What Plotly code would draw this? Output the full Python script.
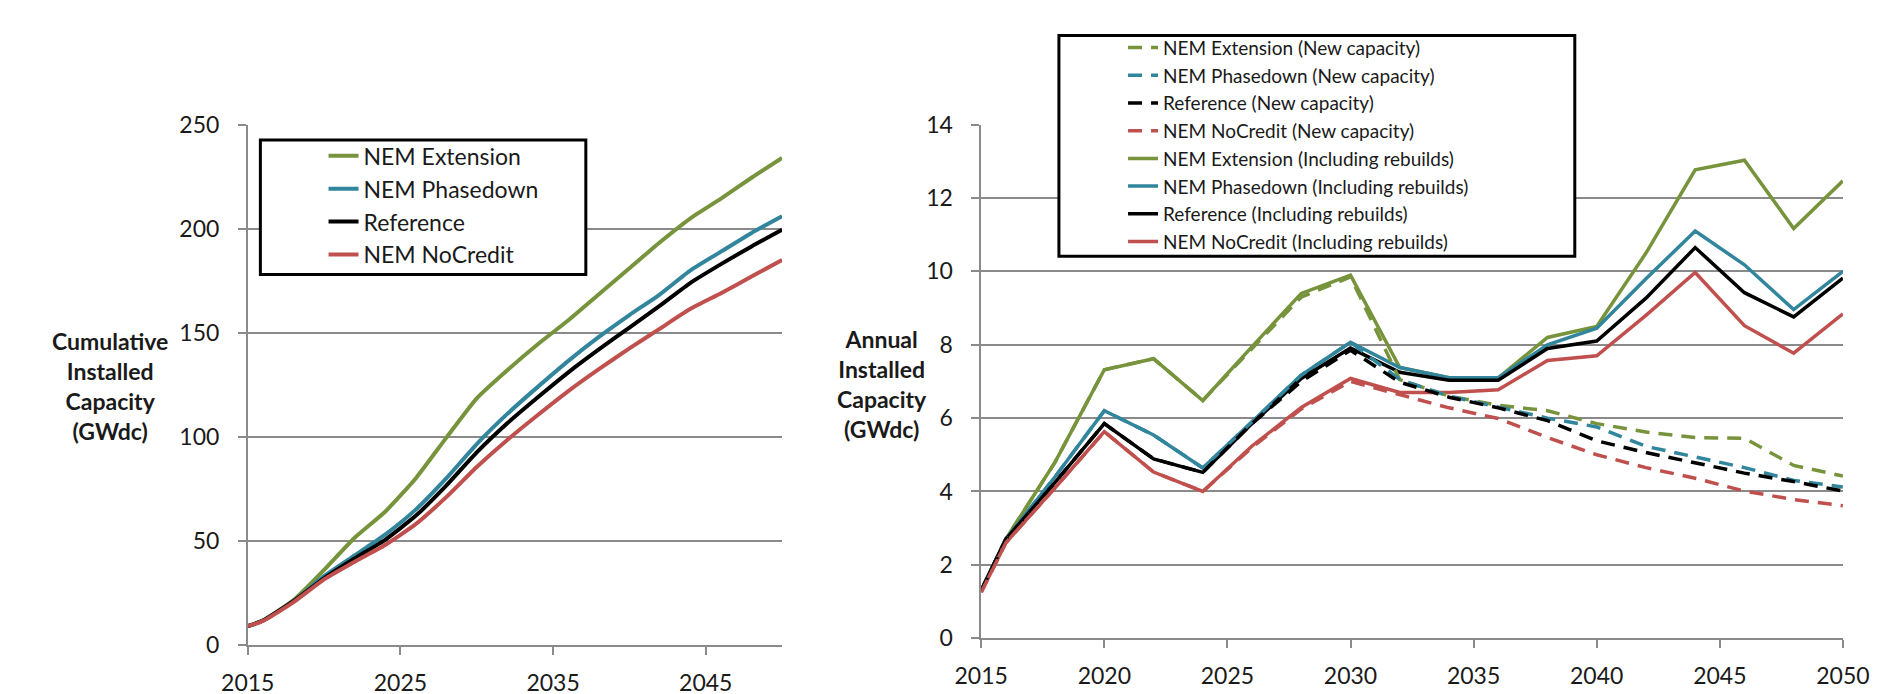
import plotly.graph_objects as go

# ---------------- data ----------------
years = [2015, 2016, 2018, 2020, 2022, 2024, 2026, 2028, 2030, 2032, 2034,
         2036, 2038, 2040, 2042, 2044, 2046, 2048, 2050]

# Left: cumulative installed capacity (GWdc)
cum_extension = [9, 11.7, 21.5, 36, 51.5, 64, 80, 99.5, 118.5, 132, 144.5,
                 156, 168.5, 181, 193.5, 205, 214.5, 224.5, 234]
cum_phasedown = [9, 11.7, 21, 33, 43, 53, 65, 80, 96.5, 111, 124,
                 136.5, 148, 158.5, 168.5, 180, 189, 198, 206]
cum_reference = [9, 11.7, 21, 32, 41.5, 50.5, 62, 76.5, 92.5, 106.5, 119,
                 131, 142, 152.5, 163, 174, 183, 191.5, 199.5]
cum_nocredit = [9, 11.5, 20.5, 31.5, 40, 48, 58, 71, 85.5, 98.5, 110.5,
                122, 132.5, 142.5, 152, 161.5, 169, 177, 185]

# Right: annual installed capacity (GWdc), including rebuilds
reb_extension = [1.3, 2.7, 4.8, 7.32, 7.62, 6.48, 7.95, 9.4, 9.9, 7.38, 7.1,
                 7.1, 8.2, 8.5, 10.5, 12.77, 13.03, 11.17, 12.47]
reb_phasedown = [1.3, 2.7, 4.4, 6.2, 5.54, 4.64, 5.9, 7.17, 8.07, 7.38, 7.1,
                 7.1, 8.0, 8.45, 9.8, 11.1, 10.18, 8.96, 10.0]
reb_reference = [1.3, 2.7, 4.25, 5.85, 4.89, 4.52, 5.85, 7.08, 7.91, 7.25, 7.03,
                 7.03, 7.9, 8.1, 9.27, 10.65, 9.42, 8.76, 9.82]
reb_nocredit = [1.25, 2.6, 4.1, 5.63, 4.53, 4.0, 5.24, 6.29, 7.08, 6.7, 6.7,
                6.77, 7.57, 7.7, 8.8, 9.97, 8.52, 7.77, 8.84]

# Right: annual installed capacity (GWdc), new capacity only
new_extension = [1.3, 2.7, 4.8, 7.32, 7.62, 6.48, 7.9, 9.3, 9.85, 7.05, 6.6,
                 6.35, 6.2, 5.85, 5.62, 5.47, 5.45, 4.71, 4.42]
new_phasedown = [1.3, 2.7, 4.4, 6.2, 5.54, 4.64, 5.9, 7.17, 8.07, 7.05, 6.6,
                 6.3, 6.0, 5.76, 5.23, 4.94, 4.65, 4.3, 4.12]
new_reference = [1.3, 2.7, 4.25, 5.85, 4.89, 4.52, 5.85, 7.0, 7.85, 6.98, 6.57,
                 6.28, 5.93, 5.38, 5.06, 4.77, 4.5, 4.27, 4.01]
new_nocredit = [1.25, 2.6, 4.1, 5.63, 4.53, 4.0, 5.2, 6.25, 7.0, 6.63, 6.28,
                5.99, 5.47, 5.0, 4.65, 4.36, 4.01, 3.78, 3.61]

scenarios = ["NEM Extension", "NEM Phasedown", "Reference", "NEM NoCredit"]
colors = ["#77933C", "#31859C", "#000000", "#C0504D"]

left_ticks = [2015, 2025, 2035, 2045]
right_ticks = [2015, 2020, 2025, 2030, 2035, 2040, 2045, 2050]

# ---------------- figure ----------------
W, H = 1893, 694
FONT = "Lato, 'Open Sans', sans-serif"
GRID = "#8a8a8a"
TXT = "#1a1a1a"


def px(x):
    return x / W


def py(y):
    return 1 - y / H


fig = go.Figure()

cum_series = [cum_extension, cum_phasedown, cum_reference, cum_nocredit]
for name, col, vals in zip(scenarios, colors, cum_series):
    fig.add_trace(go.Scatter(
        x=years, y=vals, name=name, mode="lines",
        line=dict(color=col, width=4, shape="spline", smoothing=0.5),
        xaxis="x", yaxis="y", legend="legend"))

reb_series = [reb_extension, reb_phasedown, reb_reference, reb_nocredit]
new_series = [new_extension, new_phasedown, new_reference, new_nocredit]
for i, (name, col, vals) in enumerate(zip(scenarios, colors, reb_series)):
    fig.add_trace(go.Scatter(
        x=years, y=vals, name=name + " (Including rebuilds)", mode="lines",
        line=dict(color=col, width=3.5),
        xaxis="x2", yaxis="y2", legend="legend2", legendrank=10 + i))
for i, (name, col, vals) in enumerate(zip(scenarios, colors, new_series)):
    fig.add_trace(go.Scatter(
        x=years, y=vals, name=name + " (New capacity)", mode="lines",
        line=dict(color=col, width=3.5, dash="14px,9px"),
        xaxis="x2", yaxis="y2", legend="legend2", legendrank=1 + i))

axis_common = dict(
    showline=True, linecolor=GRID, linewidth=1.5,
    ticks="outside", ticklen=8, tickcolor=GRID, tickwidth=1.5,
    tickfont=dict(family=FONT, size=23, color=TXT),
    zeroline=False, fixedrange=True,
)

fig.update_layout(
    width=W, height=H,
    margin=dict(l=0, r=0, t=0, b=0),
    paper_bgcolor="white", plot_bgcolor="white",
    font=dict(family=FONT, color=TXT),
    xaxis=dict(domain=[px(219), px(769)], range=[2015, 2050],
               tickmode="array", tickvals=left_ticks, showgrid=False,
               anchor="y", ticklabelstandoff=9, **axis_common),
    yaxis=dict(domain=[py(648), py(106)], range=[0, 250], dtick=50,
               showgrid=True, gridcolor=GRID, gridwidth=1.5,
               anchor="x", ticklabelstandoff=14, **axis_common),
    xaxis2=dict(domain=[px(974), px(1861)], range=[2015, 2050],
                tickmode="array", tickvals=right_ticks, showgrid=False,
                anchor="y2", ticklabelstandoff=9, **axis_common),
    yaxis2=dict(domain=[py(641), py(106)], range=[0, 14], dtick=2,
                showgrid=True, gridcolor=GRID, gridwidth=1.5,
                anchor="x2", ticklabelstandoff=14, **axis_common),
    legend=dict(x=px(297), y=py(116), xanchor="left", yanchor="top",
                bgcolor="rgba(0,0,0,0)", borderwidth=0,
                font=dict(family=FONT, size=23, color=TXT),
                tracegroupgap=0),
    legend2=dict(x=px(1120), y=py(6), xanchor="left", yanchor="top",
                 bgcolor="rgba(0,0,0,0)", borderwidth=0,
                 font=dict(family=FONT, size=19, color=TXT),
                 tracegroupgap=0),
    showlegend=True,
    shapes=[
        dict(type="rect", xref="paper", yref="paper",
             x0=px(232), x1=px(567), y0=py(262), y1=py(122),
             fillcolor="white", line=dict(color="black", width=3),
             layer="above"),
        dict(type="rect", xref="paper", yref="paper",
             x0=px(1054), x1=px(1585), y0=py(243), y1=py(13),
             fillcolor="white", line=dict(color="black", width=3),
             layer="above"),
    ],
    annotations=[
        dict(text="<b>Cumulative<br>Installed<br>Capacity<br>(GWdc)</b>",
             xref="paper", yref="paper", x=px(77), y=py(378),
             xanchor="center", yanchor="middle", showarrow=False,
             align="center", font=dict(family=FONT, size=23, color=TXT)),
        dict(text="<b>Annual<br>Installed<br>Capacity<br>(GWdc)</b>",
             xref="paper", yref="paper", x=px(872), y=py(376),
             xanchor="center", yanchor="middle", showarrow=False,
             align="center", font=dict(family=FONT, size=23, color=TXT)),
    ],
)

fig.write_html("out.html")
